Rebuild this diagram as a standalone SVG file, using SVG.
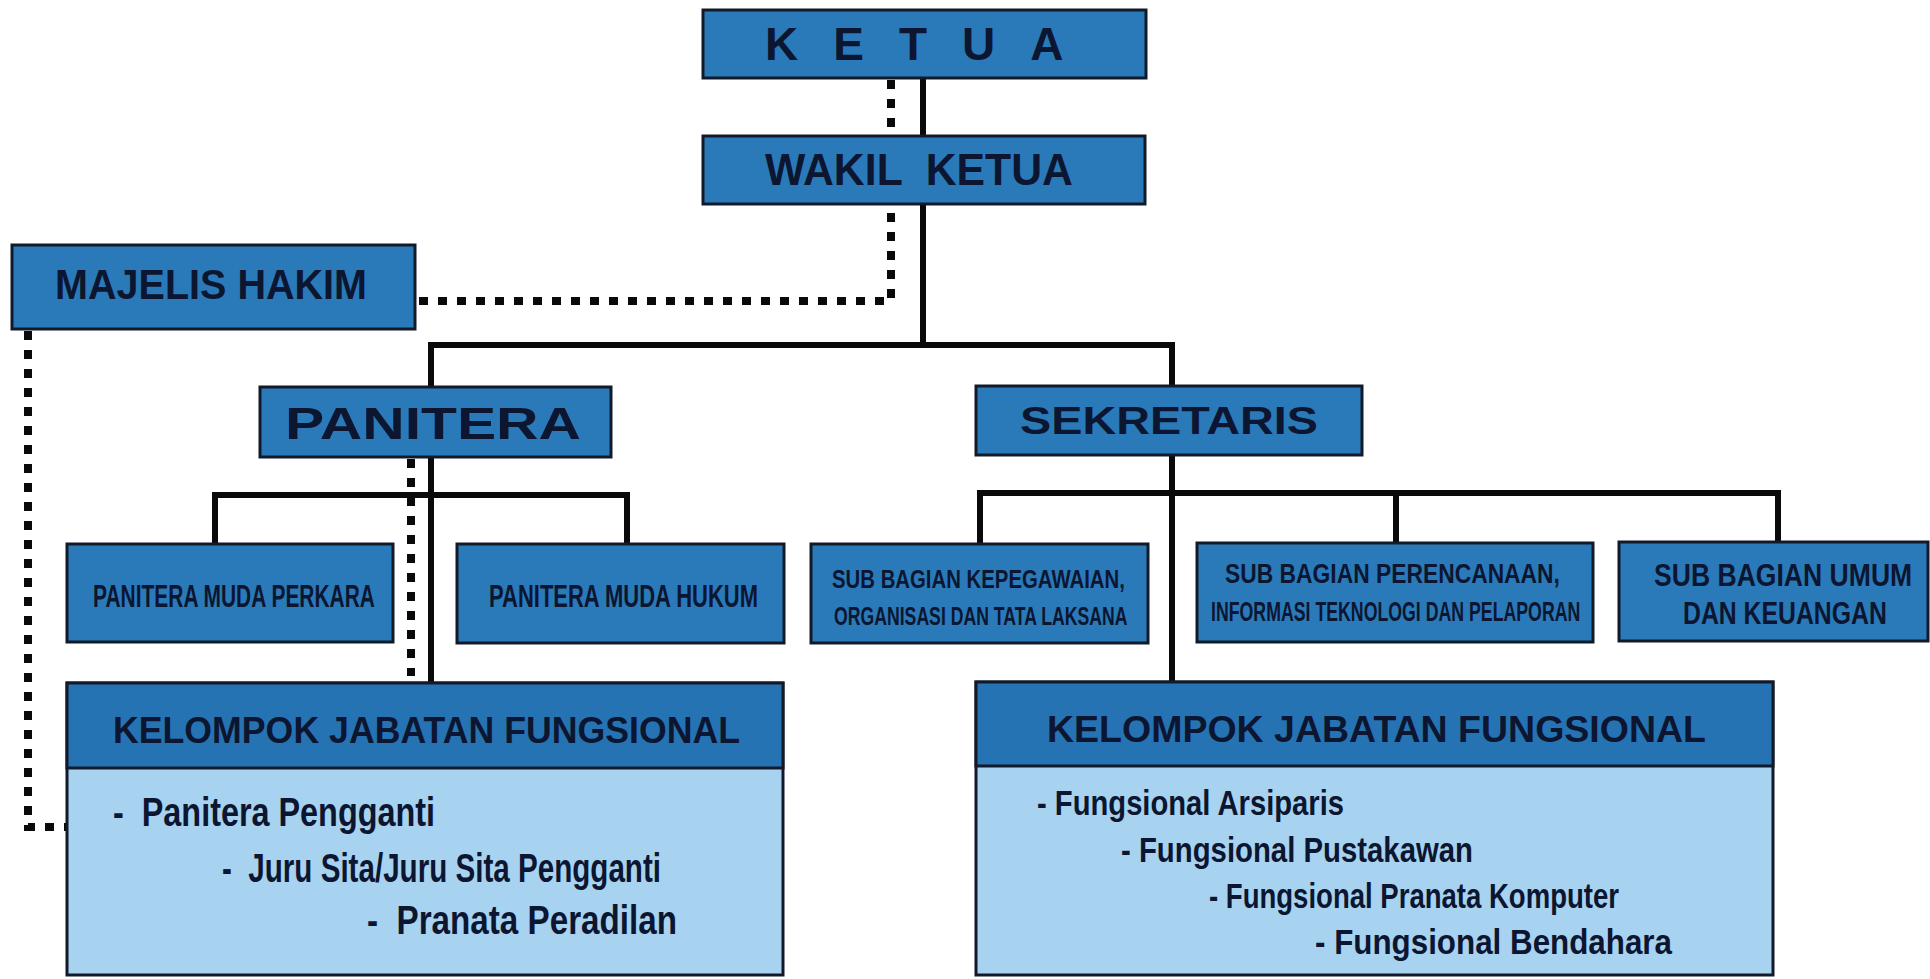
<svg xmlns="http://www.w3.org/2000/svg" width="1930" height="979" viewBox="0 0 1930 979">
  <style>
    .box{fill:#2a7aba;stroke:#121a2a;stroke-width:3}
    .hdr{fill:#2673b4;stroke:#121a2a;stroke-width:3}
    .body{fill:#a7d2f0;stroke:#121a2a;stroke-width:3}
    .t{font-family:"Liberation Sans",Arial,sans-serif;font-weight:bold;fill:#0c1630}
    .pre{white-space:pre}
    .solid{stroke:#0a0a0a;stroke-width:6;fill:none;stroke-linecap:square}
    .dot{stroke:#0a0a0a;stroke-width:8;fill:none;stroke-dasharray:9 10}
  </style>
  <rect width="1930" height="979" fill="#ffffff"/>

  <g id="connectors">
    <path class="dot" d="M891 80 V301 H415"/>
    <path class="dot" d="M28 331 V827 H67"/>
    <path class="dot" d="M411 459 V676"/>
    <path class="solid" d="M923 78 V345"/>
    <path class="solid" d="M431 388 V345 H1172 V386"/>
    <path class="solid" d="M431 457 V683"/>
    <path class="solid" d="M215 544 V495 H627 V544"/>
    <path class="solid" d="M1172 455 V682"/>
    <path class="solid" d="M980 544 V493 H1778 V543"/>
    <path class="solid" d="M1396 493 V543"/>
  </g>

  <g id="ketua">
    <rect class="box" x="703" y="10" width="443" height="68"/>
    <text class="t" x="765" y="60" font-size="46" letter-spacing="35">KETUA</text>
  </g>

  <g id="wakil-ketua">
    <rect class="box" x="703" y="136" width="442" height="68"/>
    <text class="t pre" x="765" y="185" font-size="44" textLength="308" lengthAdjust="spacingAndGlyphs">WAKIL  KETUA</text>
  </g>

  <g id="majelis-hakim">
    <rect class="box" x="12" y="245" width="403" height="84"/>
    <text class="t" x="55" y="299" font-size="43" textLength="312" lengthAdjust="spacingAndGlyphs">MAJELIS HAKIM</text>
  </g>

  <g id="panitera">
    <rect class="box" x="260" y="387" width="351" height="70"/>
    <text class="t" x="285" y="439" font-size="45" textLength="296" lengthAdjust="spacingAndGlyphs">PANITERA</text>
  </g>

  <g id="sekretaris">
    <rect class="box" x="976" y="386" width="386" height="69"/>
    <text class="t" x="1020" y="434" font-size="38" textLength="298" lengthAdjust="spacingAndGlyphs">SEKRETARIS</text>
  </g>

  <g id="panitera-muda-perkara">
    <rect class="box" x="67" y="544" width="326" height="98"/>
    <text class="t" x="93" y="607" font-size="31" textLength="282" lengthAdjust="spacingAndGlyphs">PANITERA MUDA PERKARA</text>
  </g>

  <g id="panitera-muda-hukum">
    <rect class="box" x="457" y="544" width="327" height="99"/>
    <text class="t" x="489" y="607" font-size="31" textLength="269" lengthAdjust="spacingAndGlyphs">PANITERA MUDA HUKUM</text>
  </g>

  <g id="sub-bagian-kepegawaian">
    <rect class="box" x="811" y="544" width="337" height="99"/>
    <text class="t" transform="translate(832 588) scale(0.783 1)" font-size="26">SUB BAGIAN KEPEGAWAIAN,</text>
    <text class="t" transform="translate(834 625) scale(0.679 1)" font-size="26">ORGANISASI DAN TATA LAKSANA</text>
  </g>

  <g id="sub-bagian-perencanaan">
    <rect class="box" x="1197" y="543" width="396" height="99"/>
    <text class="t" transform="translate(1225 583) scale(0.846 1)" font-size="27">SUB BAGIAN PERENCANAAN,</text>
    <text class="t" transform="translate(1211 621) scale(0.657 1)" font-size="27">INFORMASI TEKNOLOGI DAN PELAPORAN</text>
  </g>

  <g id="sub-bagian-umum">
    <rect class="box" x="1619" y="542" width="309" height="99"/>
    <text class="t" transform="translate(1654 586) scale(0.857 1)" font-size="31">SUB BAGIAN UMUM</text>
    <text class="t" transform="translate(1683 624) scale(0.8 1)" font-size="31">DAN KEUANGAN</text>
  </g>

  <g id="kjf-panitera">
    <rect class="body" x="67" y="683" width="716" height="292"/>
    <rect class="hdr" x="67" y="683" width="716" height="85"/>
    <text class="t" x="113" y="743" font-size="37" textLength="627" lengthAdjust="spacingAndGlyphs">KELOMPOK JABATAN FUNGSIONAL</text>
    <text class="t pre" x="113" y="826" font-size="40" textLength="322" lengthAdjust="spacingAndGlyphs">-  Panitera Pengganti</text>
    <text class="t pre" x="222" y="882" font-size="40" textLength="439" lengthAdjust="spacingAndGlyphs">-  Juru Sita/Juru Sita Pengganti</text>
    <text class="t pre" x="367" y="934" font-size="40" textLength="310" lengthAdjust="spacingAndGlyphs">-  Pranata Peradilan</text>
  </g>

  <g id="kjf-sekretaris">
    <rect class="body" x="976" y="682" width="797" height="293"/>
    <rect class="hdr" x="976" y="682" width="797" height="84"/>
    <text class="t" x="1047" y="742" font-size="37" textLength="659" lengthAdjust="spacingAndGlyphs">KELOMPOK JABATAN FUNGSIONAL</text>
    <text class="t" x="1037" y="815" font-size="35" textLength="307" lengthAdjust="spacingAndGlyphs">- Fungsional Arsiparis</text>
    <text class="t" x="1121" y="862" font-size="35" textLength="352" lengthAdjust="spacingAndGlyphs">- Fungsional Pustakawan</text>
    <text class="t" x="1209" y="908" font-size="35" textLength="410" lengthAdjust="spacingAndGlyphs">- Fungsional Pranata Komputer</text>
    <text class="t" x="1315" y="954" font-size="35" textLength="357" lengthAdjust="spacingAndGlyphs">- Fungsional Bendahara</text>
  </g>
</svg>
